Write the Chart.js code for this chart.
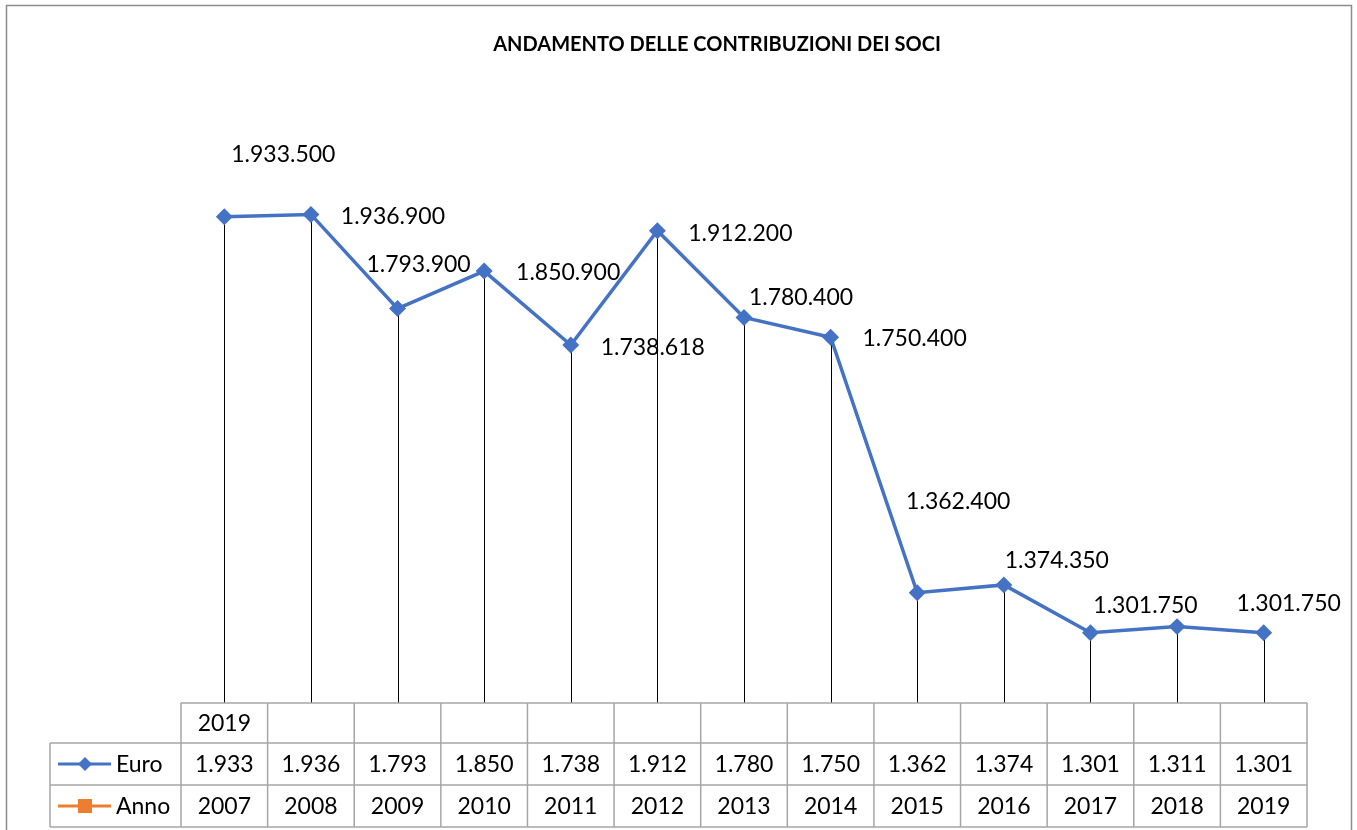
<!DOCTYPE html>
<html>
<head>
<meta charset="utf-8">
<title>Andamento delle contribuzioni dei soci</title>
<script src="https://cdn.jsdelivr.net/npm/chart.js@4/dist/chart.umd.min.js"></script>
<style>
  body { margin: 0; background: #fff; }
  canvas { display: block; }
</style>
</head>
<body>
<canvas id="contribuzioni" width="1357" height="830"></canvas>
<script>
const chartTitle = 'ANDAMENTO DELLE CONTRIBUZIONI DEI SOCI';
const categoryLabels = ['2019', '', '', '', '', '', '', '', '', '', '', '', ''];
const euroValues = [1933500, 1936900, 1793900, 1850900, 1738618, 1912200, 1780400, 1750400, 1362400, 1374350, 1301750, 1311000, 1301750];
const annoValues = [2007, 2008, 2009, 2010, 2011, 2012, 2013, 2014, 2015, 2016, 2017, 2018, 2019];

// hand-placed data labels, like in the original sheet (null = no label)
const labelOffsets = [
    [59, -62], [82, 2], [21, -44], [84, 2], [82, 3], [83, 3], [57, -20],
    [84, 1], [41, -91], [53, -24], [55, -27], null, [25, -29]
];

const blue = '#4472C4';
const orange = '#ED7D31';
const font = 'Lato, "Open Sans", sans-serif';

function dots(n) {
    return String(n).replace(/\B(?=(\d{3})+(?!\d))/g, '.');
}

const tablePlugin = {
    id: 'tablePlugin',
    beforeDraw(chart) {
        const ctx = chart.ctx;
        ctx.save();
        ctx.fillStyle = '#fff';
        ctx.fillRect(0, 0, chart.width, chart.height);
        ctx.strokeStyle = '#8c8c8c';
        ctx.lineWidth = 1.5;
        ctx.strokeRect(6.5, 5.5, 1345, 840);
        ctx.fillStyle = '#000';
        ctx.font = 'bold 20px ' + font;
        ctx.textAlign = 'center';
        ctx.textBaseline = 'middle';
        ctx.fillText(chartTitle, 717, 45);
        ctx.restore();
    },
    beforeDatasetsDraw(chart) {
        // drop lines
        const ctx = chart.ctx;
        const meta = chart.getDatasetMeta(0);
        ctx.save();
        ctx.strokeStyle = '#000';
        ctx.lineWidth = 1;
        meta.data.forEach(pt => {
            const x = Math.round(pt.x) + 0.5;
            ctx.beginPath();
            ctx.moveTo(x, pt.y);
            ctx.lineTo(x, chart.chartArea.bottom);
            ctx.stroke();
        });
        ctx.restore();
    },
    afterDatasetsDraw(chart) {
        const ctx = chart.ctx;
        const meta = chart.getDatasetMeta(0);
        ctx.save();
        ctx.fillStyle = '#000';
        ctx.font = '23px ' + font;
        ctx.textAlign = 'center';
        ctx.textBaseline = 'middle';
        meta.data.forEach((pt, i) => {
            const off = labelOffsets[i];
            if (!off) return;
            ctx.fillText(dots(euroValues[i]), pt.x + off[0], pt.y + off[1]);
        });
        ctx.restore();
    },
    afterDraw(chart) {
        const ctx = chart.ctx;
        const area = chart.chartArea;
        const xs = chart.scales.x;
        const n = categoryLabels.length;
        const colW = (area.right - area.left) / n;
        const top = area.bottom;
        const rows = [top, top + 40, top + 82, top + 124];
        const legendLeft = 50;

        ctx.save();
        ctx.strokeStyle = '#a6a6a6';
        ctx.lineWidth = 1.5;
        // horizontal lines
        ctx.beginPath();
        ctx.moveTo(area.left, rows[0]); ctx.lineTo(area.right, rows[0]);
        for (let r = 1; r < rows.length; r++) {
            ctx.moveTo(legendLeft, rows[r]); ctx.lineTo(area.right, rows[r]);
        }
        // vertical lines
        for (let c = 0; c <= n; c++) {
            const x = area.left + c * colW;
            ctx.moveTo(x, rows[0]); ctx.lineTo(x, rows[3]);
        }
        ctx.moveTo(legendLeft, rows[1]); ctx.lineTo(legendLeft, rows[3]);
        ctx.stroke();

        ctx.fillStyle = '#000';
        ctx.font = '23px ' + font;
        ctx.textAlign = 'center';
        ctx.textBaseline = 'middle';
        for (let i = 0; i < n; i++) {
            const cx = xs.getPixelForValue(i);
            ctx.fillText(categoryLabels[i], cx, (rows[0] + rows[1]) / 2 + 1);
            ctx.fillText(dots(Math.floor(euroValues[i] / 1000)), cx, (rows[1] + rows[2]) / 2 + 1);
            ctx.fillText(String(annoValues[i]), cx, (rows[2] + rows[3]) / 2 + 1);
        }

        // legend keys
        chart.data.datasets.forEach((ds, d) => {
            const y = (rows[d + 1] + rows[d + 2]) / 2;
            ctx.strokeStyle = ds.borderColor;
            ctx.lineWidth = 3;
            ctx.beginPath();
            ctx.moveTo(58, y); ctx.lineTo(111, y);
            ctx.stroke();
            ctx.fillStyle = ds.borderColor;
            if (d === 0) {
                ctx.beginPath();
                ctx.moveTo(85, y - 7); ctx.lineTo(92, y); ctx.lineTo(85, y + 7); ctx.lineTo(78, y);
                ctx.closePath();
                ctx.fill();
            } else {
                ctx.fillRect(78, y - 7, 14, 14);
            }
            ctx.fillStyle = '#000';
            ctx.textAlign = 'left';
            ctx.fillText(ds.label, 116, y + 1);
        });
        ctx.restore();
    }
};

const config = {
    type: 'line',
    data: {
        labels: categoryLabels,
        datasets: [{
            label: 'Euro',
            data: euroValues,
            borderColor: blue,
            backgroundColor: blue,
            borderWidth: 3.5,
            pointStyle: 'rectRot',
            pointRadius: 6,
            pointHoverRadius: 6,
            tension: 0
        }, {
            label: 'Anno',
            data: annoValues,
            borderColor: orange,
            backgroundColor: orange,
            borderWidth: 3,
            pointStyle: 'rect',
            pointRadius: 5,
            tension: 0
        }]
    },
    options: {
        responsive: false,
        animation: false,
        layout: { padding: { left: 181, right: 50, top: 107, bottom: 127 } },
        plugins: {
            legend: { display: false },
            title: { display: false },
            tooltip: { enabled: false }
        },
        scales: {
            x: { display: false, offset: true },
            y: { display: false, min: 1195000, max: 2100000 }
        }
    },
    plugins: [tablePlugin]
};

const chartCanvas = document.getElementById('contribuzioni');
const chart = new Chart(chartCanvas.getContext('2d'), config);
</script>
</body>
</html>
